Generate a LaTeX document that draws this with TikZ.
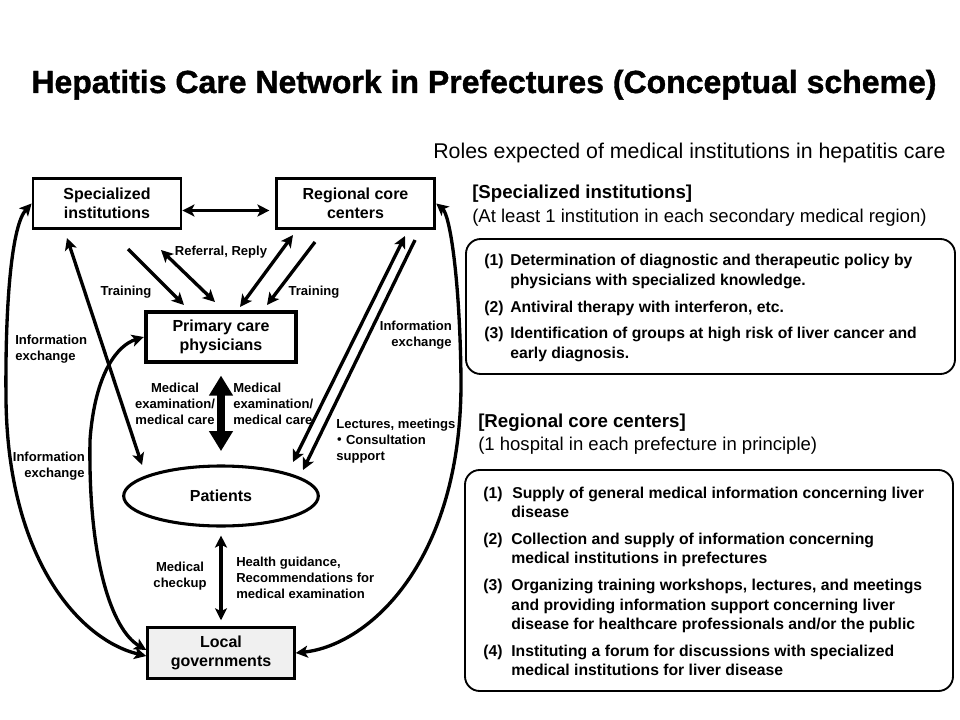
\documentclass[tikz,border=0pt]{standalone}
\usepackage{fontspec}
\setmainfont{Liberation Sans}
\newfontfamily\titlefont{Liberation Sans}[BoldFeatures={FakeBold=1.2}]
\newfontfamily\cjkfont{Noto Sans CJK JP}
\usetikzlibrary{arrows.meta,shapes.geometric,calc}
\begin{document}
\begin{tikzpicture}[x=0.75pt,y=-0.75pt,
  box/.style={draw, line width=2.1pt, minimum width=111pt, minimum height=38pt, align=center,
    font=\bfseries\fontsize{12}{14.2}\selectfont, inner sep=0pt},
  lbl/.style={font=\bfseries\fontsize{9.8}{12}\selectfont, inner sep=0pt},
  tip/.tip={Stealth[length=9pt,width=9pt,inset=2.2pt]},
  arr/.style={line width=2.5pt, -tip},
  darr/.style={line width=2.5pt, tip-tip},
  rbox/.style={draw, line width=1.4pt, rounded corners=11pt},
  item/.style={font=\bfseries\fontsize{11.8}{15}\selectfont, anchor=base west, inner sep=0pt},
  head/.style={font=\bfseries\fontsize{14}{16}\selectfont, anchor=base west, inner sep=0pt},
  sub/.style={font=\fontsize{13.9}{16}\selectfont, anchor=base west, inner sep=0pt}
]
\useasboundingbox (0,0) rectangle (960,720);

% title
\node[font=\titlefont\bfseries\fontsize{24}{28}\selectfont, anchor=base, inner sep=0pt] (title) at (484,93)
  {Hepatitis Care Network in Prefectures (Conceptual scheme)};
\node[font=\fontsize{16}{18}\selectfont, anchor=base west, inner sep=0pt] (roles) at (433,159)
  {Roles expected of medical institutions in hepatitis care};

% boxes
\node[box, minimum width=111pt] (spec) at (107,203.5) {Specialized\\institutions};
\node[box, minimum width=119pt] (reg) at (355.5,203.5) {Regional core\\centers};
\node[box, line width=2.8pt, minimum width=113pt, minimum height=37pt] (prim) at (221,337) {Primary care\\physicians};
\node[draw, ellipse, line width=2.3pt, minimum width=146pt, minimum height=45pt, inner sep=0pt,
  font=\bfseries\fontsize{12}{14}\selectfont] (pat) at (221,496) {Patients};
\node[box, fill=black!6, minimum width=110pt, minimum height=38pt] (loc) at (221,653) {Local\\governments};

% straight connectors
\draw[darr, shorten >=4pt] ($(spec.east)+(0,7)$) -- ($(reg.west)+(0,7)$);

\coordinate (t1a) at (128,249); \coordinate (t1b) at (184,305);
\coordinate (rra) at (161,250); \coordinate (rrb) at (215,302);
\coordinate (rda) at (293,235); \coordinate (rdb) at (240,307);
\coordinate (t2a) at (315,242); \coordinate (t2b) at (267,305);
\coordinate (spa) at (67,238);  \coordinate (spb) at (142,465);
\coordinate (ria) at (405,236); \coordinate (rib) at (293,462);
\coordinate (rja) at (415,240); \coordinate (rjb) at (303,470);

\draw[arr] (t1a) -- (t1b);
\draw[darr] (rra) -- (rrb);
\draw[darr] (rda) -- (rdb);
\draw[arr] (t2a) -- (t2b);
\draw[darr] (spa) -- (spb);
\draw[darr] (ria) -- (rib);
\draw[arr] (rja) -- (rjb);

\draw[line width=6pt, {Triangle[length=15pt,width=17pt]}-{Triangle[length=15pt,width=17pt]},
  shorten <=9pt, shorten >=10pt] (prim.south) -- (pat.north);
\draw[darr, shorten <=6pt, shorten >=4.5pt] (pat.south) -- (loc.north);

% curves
\draw[darr] (spec.west) .. controls (12,225) and (5,300) .. (6,400)
  .. controls (8,560) and (80,640) .. ($(loc.west)+(0,3)$);
\draw[darr] (prim.west) .. controls (118,345) and (95,372) .. (90,440)
  .. controls (88,560) and (112,630) .. ($(loc.west)+(0,-3)$);
\draw[darr] (reg.east) .. controls (450,215) and (460,280) .. (461,380)
  .. controls (462,560) and (370,645) .. (loc.east);

% labels
\node[lbl] (lrr) at (221,252) {Referral, Reply};
\node[lbl] (ltr1) at (126,292) {Training};
\node[lbl] (ltr2) at (314,292) {Training};
\node[lbl, anchor=west, align=left] (lie1) at (15,349) {Information\\exchange};
\node[lbl, anchor=east, align=right] (lie2) at (85,466) {Information\\exchange};
\node[lbl, anchor=east, align=right] (lie3) at (452,335) {Information\\exchange};
\node[lbl, align=center] (lme1) at (175,404) {Medical\\examination/\\medical care};
\node[lbl, anchor=west, align=left] (lme2) at (233,404) {Medical\\examination/\\medical care};
\node[lbl, anchor=west, align=left] (llec) at (336,441) {Lectures, meetings\\\hspace{-2.5pt}{\cjkfont ・}Consultation\\support};
\node[lbl, align=center] (lchk) at (180,576) {Medical\\checkup};
\node[lbl, anchor=west, align=left] (lhg) at (236,578) {Health guidance,\\Recommendations for\\medical examination};

% right panel 1
\node[head] (h1) at (472,199) {[Specialized institutions]};
\node[sub] (s1) at (472,223) {(At least 1 institution in each secondary medical region)};
\draw[rbox] (466,239) rectangle (955,374);
\node[item] (n11) at (484,266) {(1)};
\node[item] (i11) at (510,266) {Determination of diagnostic and therapeutic policy by};
\node[item] (i11b) at (510,286) {physicians with specialized knowledge.};
\node[item] (n12) at (484,312) {(2)};
\node[item] (i12) at (510,312) {Antiviral therapy with interferon, etc.};
\node[item] (n13) at (484,339) {(3)};
\node[item] (i13) at (510,339) {Identification of groups at high risk of liver cancer and};
\node[item] (i13b) at (510,358) {early diagnosis.};

% right panel 2
\node[head] (h2) at (478,427) {[Regional core centers]};
\node[sub] (s2) at (478,450) {(1 hospital in each prefecture in principle)};
\draw[rbox] (465,470) rectangle (953,691);
\node[item] (n21) at (483,498) {(1)};
\node[item] (i21) at (512,498) {Supply of general medical information concerning liver};
\node[item] (i21b) at (511,517) {disease};
\node[item] (n22) at (483,544) {(2)};
\node[item] (i22) at (511,544) {Collection and supply of information concerning};
\node[item] (i22b) at (511,563) {medical institutions in prefectures};
\node[item] (n23) at (483,590) {(3)};
\node[item] (i23) at (511,590) {Organizing training workshops, lectures, and meetings};
\node[item] (i23b) at (511,610) {and providing information support concerning liver};
\node[item] (i23c) at (511,629) {disease for healthcare professionals and/or the public};
\node[item] (n24) at (483,656) {(4)};
\node[item] (i24) at (511,656) {Instituting a forum for discussions with specialized};
\node[item] (i24b) at (511,675) {medical institutions for liver disease};
\end{tikzpicture}
\end{document}
